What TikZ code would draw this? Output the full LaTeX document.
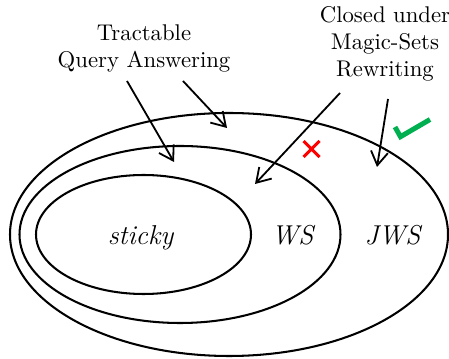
\documentclass[tikz,border=0pt]{standalone}
\usetikzlibrary{arrows.meta}
\definecolor{okgreen}{RGB}{0,176,80}
\begin{document}
\begin{tikzpicture}[x=0.44pt,y=0.44pt,
  set/.style={line width=0.9pt},
  pointer/.style={line width=0.8pt,-{Straight Barb[length=6pt,width=7.5pt]}},
  setname/.style={font=\large\itshape,anchor=base},
  remark/.style={align=center,inner sep=0pt}]
\useasboundingbox (0,0) rectangle (449,358);
\draw[set] (229,123.5) ellipse [x radius=219,y radius=121.5];
\draw[set] (180,123.5) ellipse [x radius=160.5,y radius=88.5];
\draw[set] (143.5,123.5) ellipse [x radius=107.5,y radius=59.5];

\node[setname] (sticky) at (140.5,113) {sticky};
\node[setname] (ws) at (292.5,113) {WS};
\node[setname] (jws) at (392.5,113) {JWS};

\node[remark] (tqa) at (144,309.5) {Tractable\\Query Answering};
\node[remark] (cms) at (385,314) {Closed under\\Magic-Sets\\Rewriting};

\coordinate (tqa1) at (127,277);
\coordinate (tqa2) at (183,277);
\coordinate (cms1) at (340,265);
\coordinate (cms2) at (388,259);
\coordinate (inws) at (174,196);
\coordinate (injws) at (227,230);
\coordinate (inws2) at (255,174);
\coordinate (injws2) at (377,191);
\draw[pointer] (tqa1) -- (inws);
\draw[pointer] (tqa2) -- (injws);
\draw[pointer] (cms1) -- (inws2);
\draw[pointer] (cms2) -- (injws2);

\draw[red,line width=1.3pt] (303.5,201) -- (319.5,217) (303.5,217) -- (319.5,201);
\draw[okgreen,line width=2.2pt] (395,231) -- (400.5,221.3) -- (430,238.5);
\end{tikzpicture}
\end{document}
